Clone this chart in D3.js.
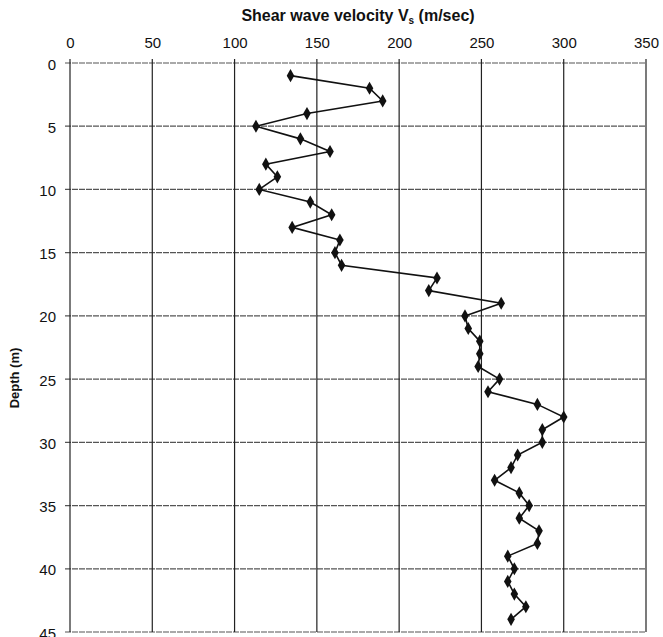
<!DOCTYPE html>
<meta charset="utf-8">
<head>
  <style>
    body { margin: 0; background: #fff; }
    svg text { font-family: "Liberation Sans", Arial, sans-serif; fill: #111; }
    .title { font-weight: bold; font-size: 16px; }
    .tick text { font-size: 15px; }
    .ylabel { font-weight: bold; font-size: 13px; }
  </style>
</head>
<body>
<div id="chart"></div>
<script src="https://d3js.org/d3.v7.min.js"></script>
<script>

// depth (m) and shear wave velocity (m/sec)
var depths = [1, 2, 3, 4, 5, 6, 7, 8, 9, 10, 11, 12, 13, 14, 15, 16, 17, 18, 19, 20, 21, 22,
  23, 24, 25, 26, 27, 28, 29, 30, 31, 32, 33, 34, 35, 36, 37, 38, 39, 40, 41, 42, 43, 44];
var velocities = [134, 182, 190, 144, 113, 140, 158, 119, 126, 115, 146, 159, 135, 164, 161, 165,
  223, 218, 262, 240, 242, 249, 249, 248, 261, 254, 284, 300, 287, 287, 272, 268, 258, 273, 279,
  273, 285, 284, 266, 270, 266, 270, 277, 268];
var xTicks = [0, 50, 100, 150, 200, 250, 300, 350];
var yTicks = [0, 5, 10, 15, 20, 25, 30, 35, 40, 45];

var width = 663, height = 637;
var margin = { top: 63, left: 70, right: 17, bottom: 5 };

var svg = d3.select("#chart").append("svg")
    .attr("width", width)
    .attr("height", height);

var x = d3.scaleLinear()
    .domain([0, 350])
    .range([margin.left, width - margin.right]);

var y = d3.scaleLinear()
    .domain([0, 45])
    .range([margin.top, 632]);

// grid
svg.append("g")
  .selectAll("line")
  .data(yTicks)
  .enter().append("line")
    .attr("x1", x(0) - 5)
    .attr("x2", x(350))
    .attr("y1", function(d) { return y(d); })
    .attr("y2", function(d) { return y(d); })
    .attr("stroke", "#555")
    .attr("stroke-width", 1.2)
    .attr("stroke-dasharray", "6,1");

svg.append("g")
  .selectAll("line")
  .data(xTicks)
  .enter().append("line")
    .attr("x1", function(d) { return x(d); })
    .attr("x2", function(d) { return x(d); })
    .attr("y1", y(0) - 4)
    .attr("y2", y(45))
    .attr("stroke", "#222")
    .attr("stroke-width", 1.2);

// axes (labels only, grid draws the lines)
var xAxis = svg.append("g")
    .attr("transform", "translate(0," + (y(0) - 9) + ")")
    .call(d3.axisTop(x).tickValues(xTicks).tickSize(0).tickPadding(6));
xAxis.select(".domain").remove();

var yAxis = svg.append("g")
    .attr("transform", "translate(" + (x(0) - 8) + ",0)")
    .call(d3.axisLeft(y).tickValues(yTicks).tickSize(0).tickPadding(6));
yAxis.select(".domain").remove();
yAxis.selectAll(".tick text").attr("dy", "0.4em");

svg.selectAll(".tick text").attr("fill", "#111").attr("font-family", null);

// titles
var title = svg.append("text")
    .attr("class", "title")
    .attr("x", 358)
    .attr("y", 21)
    .attr("text-anchor", "middle");
title.append("tspan").text("Shear wave velocity V");
title.append("tspan").attr("font-size", "10px").attr("dy", 3).text("s");
title.append("tspan").attr("dy", -3).text(" (m/sec)");

svg.append("text")
    .attr("class", "ylabel")
    .attr("transform", "translate(19,378) rotate(-90)")
    .attr("text-anchor", "middle")
    .text("Depth (m)");

// profile
var pts = depths.map(function(d, i) { return { depth: d, v: velocities[i] }; });

var line = d3.line()
    .x(function(d) { return x(d.v); })
    .y(function(d) { return y(d.depth); });

svg.append("path")
    .datum(pts)
    .attr("d", line)
    .attr("fill", "none")
    .attr("stroke", "#111")
    .attr("stroke-width", 1.6);

svg.append("g")
  .selectAll("path")
  .data(pts)
  .enter().append("path")
    .attr("d", d3.symbol().type(d3.symbolDiamond).size(50))
    .attr("transform", function(d) { return "translate(" + x(d.v) + "," + y(d.depth) + ")"; })
    .attr("fill", "#111");

</script>
